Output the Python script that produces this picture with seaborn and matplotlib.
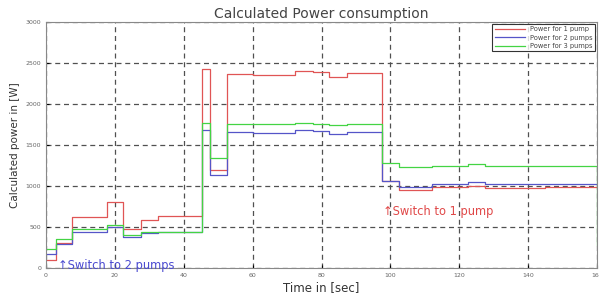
import matplotlib
matplotlib.use("Agg")
import matplotlib.pyplot as plt
import seaborn as sns
import pandas as pd

# step breakpoints (sec) shared by all three series
time_s = [0, 2.8, 7.6, 17.6, 22.4, 27.5, 32.5, 45.3, 47.5, 52.6, 60, 72.2, 77.4,
          82.3, 87.5, 97.5, 102.6, 112, 122.5, 127.5, 145, 159.6, 160]
power_1 = [100, 300, 625, 810, 470, 585, 630, 2430, 1200, 2365, 2350, 2405, 2385,
           2325, 2375, 1060, 955, 990, 1000, 970, 985, 985, 985]
power_2 = [170, 290, 445, 505, 375, 430, 435, 1680, 1130, 1655, 1650, 1680, 1665,
           1630, 1660, 1060, 985, 1030, 1050, 1025, 1025, 1025, 1025]
power_3 = [230, 350, 475, 525, 405, 445, 445, 1770, 1340, 1755, 1760, 1765, 1760,
           1745, 1760, 1275, 1235, 1245, 1265, 1245, 1245, 1245, 280]
series_names = ["Power for 1 pump", "Power for 2 pumps", "Power for 3 pumps"]
series_colors = ["#e05555", "#5555c8", "#44d444"]

rows = []
for name, vals in zip(series_names, [power_1, power_2, power_3]):
    for t, p in zip(time_s, vals):
        rows.append({"time": t, "power": p, "series": name})
df = pd.DataFrame(rows)

fig = plt.figure(figsize=(5.99, 2.95), dpi=100)
ax = fig.add_axes([0.0768, 0.0915, 0.92, 0.834])

sns.lineplot(data=df, x="time", y="power", hue="series", palette=series_colors,
             drawstyle="steps-post", lw=0.9, ax=ax, estimator=None, sort=False)

ax.set_xlim(0, 160)
ax.set_ylim(0, 3000)
ax.set_xticks(range(0, 161, 20))
ax.set_yticks(range(0, 3001, 500))
ax.grid(True, color="#505050", linestyle=(0, (4, 3)), lw=0.9)
ax.tick_params(labelsize=4.5, labelcolor="#666666", direction="in", length=2)
for s in ax.spines.values():
    s.set_color("#888888")
    s.set_linewidth(0.8)

ax.set_title("Calculated Power consumption", fontsize=10, color="#444444", pad=3)
ax.set_xlabel("Time in [sec]", fontsize=8.5, color="#333333", labelpad=2)
ax.set_ylabel("Calculated power in [W]", fontsize=7.5, color="#333333", labelpad=4)

ax.text(3.5, 30, "\u2191Switch to 2 pumps", color="#4a4ad0", fontsize=8.3,
        va="center", ha="left")
ax.text(97.8, 690, "\u2191Switch to 1 pump", color="#e04848", fontsize=8.3,
        va="center", ha="left")

leg = ax.legend(loc="upper right", fontsize=4.8, frameon=True, fancybox=False,
                edgecolor="black", handlelength=4.5, borderpad=0.35, labelspacing=0.35,
                borderaxespad=0.3)
leg.get_frame().set_linewidth(0.8)
for txt in leg.get_texts():
    txt.set_color("#444444")

fig.savefig("out.png", dpi=100)
